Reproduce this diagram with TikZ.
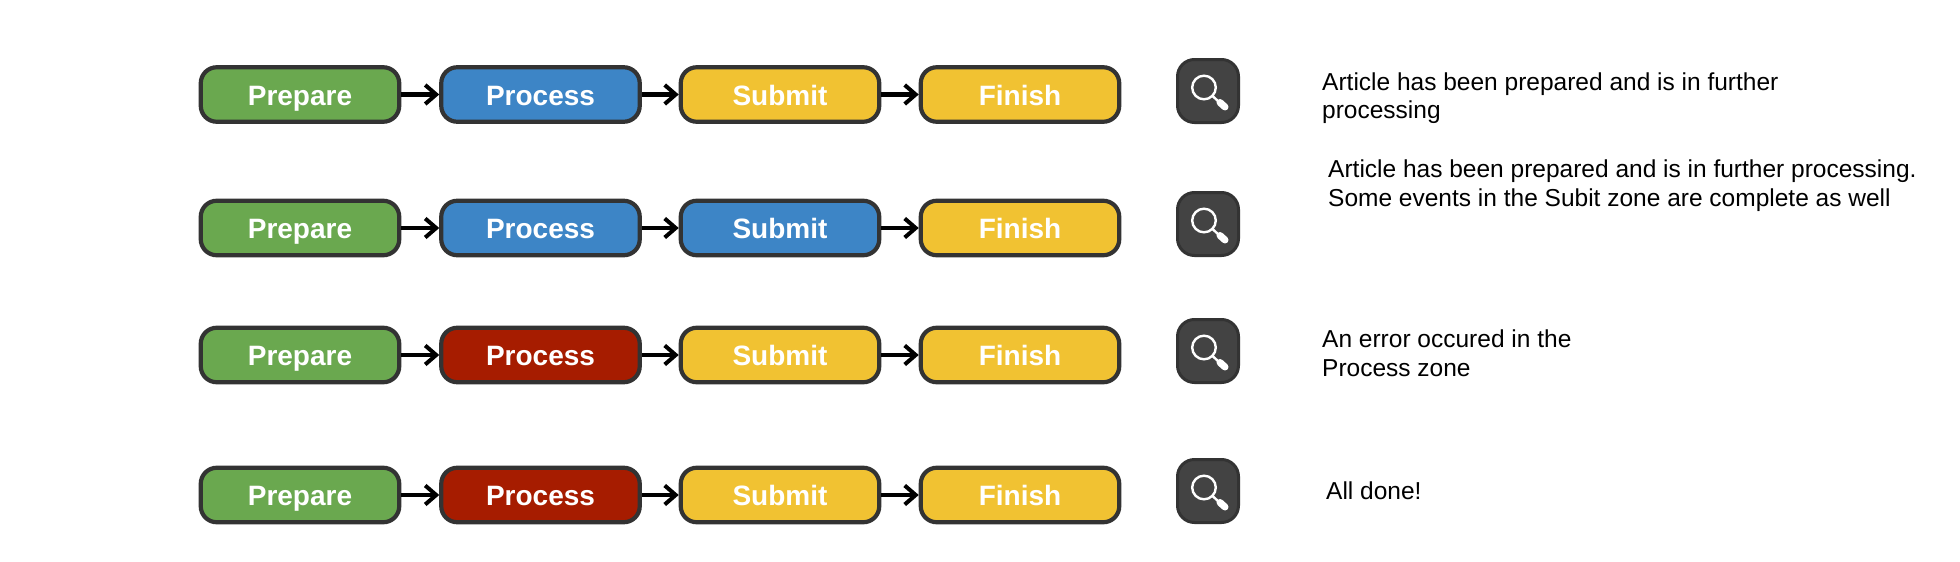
\documentclass[tikz,border=0pt]{standalone}
\usepackage{fontspec}
\setmainfont{Liberation Sans}
\usetikzlibrary{arrows.meta}
\newcommand{\lupe}[3]{%
  \node[iconbox] (#3) at (#1,#2) {};
  \draw[lens] (#1-4,#2-3.5) circle (11.8);
  \draw[lensneck] (#1+4.5,#2+5) -- (#1+11,#2+11);
  \draw[lenshandle] (#1+12,#2+11.5) -- (#1+17,#2+16);
}
\newcommand{\flowrow}[6]{%
  \node[stage,fill=#3] (#2a) at (300,#1) {Prepare};
  \node[stage,fill=#4] (#2b) at (540.5,#1) {Process};
  \node[stage,fill=#5] (#2c) at (780,#1) {Submit};
  \node[stage,fill=#6] (#2d) at (1020,#1) {Finish};
  \draw[flow] (#2a) -- (#2b);
  \draw[flow] (#2b) -- (#2c);
  \draw[flow] (#2c) -- (#2d);
}
\definecolor{gr}{HTML}{6AA84F}
\definecolor{bl}{HTML}{3D85C6}
\definecolor{ye}{HTML}{F1C232}
\definecolor{rd}{HTML}{A61C00}
\definecolor{edge}{HTML}{333333}
\definecolor{icon}{HTML}{434343}
\tikzset{
  stage/.style={draw=edge,line width=4.2pt,rounded corners=16pt,minimum width=198.5pt,minimum height=54.5pt,
    inner sep=0pt,text=white,font=\bfseries\fontsize{28}{30}\selectfont,outer sep=2pt,text height=21pt,text depth=0pt},
  flow/.style={draw=black,line width=4.4pt,-{Straight Barb[length=11pt,width=19pt,line width=4pt]}},
  iconbox/.style={draw=edge,fill=icon,line width=3pt,rounded corners=17pt,minimum width=61pt,minimum height=63pt,inner sep=0pt},
  lens/.style={draw=white,line width=2.4pt},
  lensneck/.style={draw=white,line width=2.4pt},
  lenshandle/.style={draw=white,line width=7pt,line cap=round},
  desc/.style={anchor=north west,align=left,inner sep=0pt,font=\fontsize{24.5}{28.5}\selectfont}
}
\begin{document}
\begin{tikzpicture}[x=1pt,y=-1pt]
\useasboundingbox (0,0) rectangle (1960,562);
\flowrow{94.5}{p}{gr}{bl}{ye}{ye}
\flowrow{228}{q}{gr}{bl}{bl}{ye}
\flowrow{355}{r}{gr}{rd}{ye}{ye}
\flowrow{495}{s}{gr}{rd}{ye}{ye}
\lupe{1208}{91}{ia}
\lupe{1208}{224}{ib}
\lupe{1208}{351}{ic}
\lupe{1208}{491}{id}
\node[desc] (ta) at (1322,72.5) {Article has been prepared and is in further\\processing};
\node[desc] (tb) at (1328,160) {Article has been prepared and is in further processing.\\Some events in the Subit zone are complete as well};
\node[desc] (tc) at (1322,330) {An error occured in the\\Process zone};
\node[desc] (td) at (1326,482) {All done!};
\end{tikzpicture}
\end{document}
